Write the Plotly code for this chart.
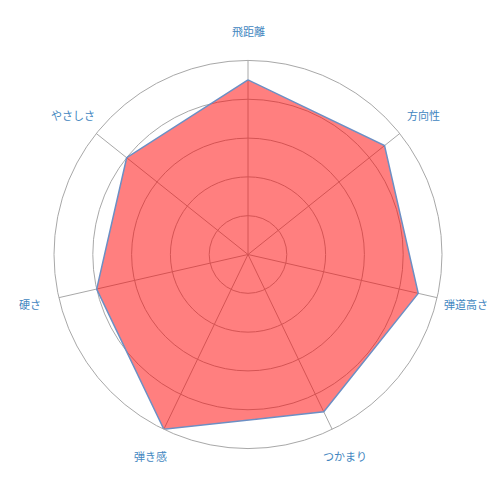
import math
import plotly.graph_objects as go

# radar chart data
categories = ["飛距離", "方向性", "弾道高さ", "つかまり", "弾き感", "硬さ", "やさしさ"]
scores = [4.5, 4.5, 4.5, 4.5, 5, 4, 4]
r_max = 5

grid = "#a8a8a8"
label_color = "#3f86c0"

W, H = 500, 500
# page body has an 8px margin, so these are shifted by 8
margin = dict(l=46, r=66, t=52, b=59)
plot_w = W - margin["l"] - margin["r"]
plot_h = H - margin["t"] - margin["b"]
label_px = 224  # distance of label centres from the chart centre

fig = go.Figure()

fig.add_trace(go.Scatterpolar(
    r=scores + scores[:1],
    theta=categories + categories[:1],
    mode="lines",
    fill="toself",
    fillcolor="rgba(255,0,0,0.5)",
    line=dict(color="#6c8fc4", width=1.5),
    hoverinfo="skip",
    showlegend=False,
))

# category names centred on a circle outside the chart (chart.js style)
annotations = []
n = len(categories)
for i, name in enumerate(categories):
    a = math.radians(90 - i * 360 / n)
    annotations.append(dict(
        x=0.5 + label_px * math.cos(a) / plot_w,
        y=0.5 + label_px * math.sin(a) / plot_h,
        xref="paper", yref="paper",
        xanchor="center", yanchor="middle",
        text=name,
        showarrow=False,
        font=dict(family="Noto Sans CJK JP", size=11, color=label_color),
    ))

fig.update_layout(
    width=W,
    height=H,
    paper_bgcolor="white",
    plot_bgcolor="white",
    margin=margin,
    annotations=annotations,
    polar=dict(
        bgcolor="white",
        domain=dict(x=[0, 1], y=[0, 1]),
        radialaxis=dict(
            range=[0, r_max],
            tickvals=[1, 2, 3, 4, 5],
            showticklabels=False,
            ticks="",
            showline=False,
            gridcolor=grid,
            gridwidth=1,
        ),
        angularaxis=dict(
            direction="clockwise",
            rotation=90,
            showticklabels=False,
            ticks="",
            linecolor=grid,
            linewidth=1,
            gridcolor=grid,
            gridwidth=1,
        ),
    ),
)

fig.write_html("out.html")
